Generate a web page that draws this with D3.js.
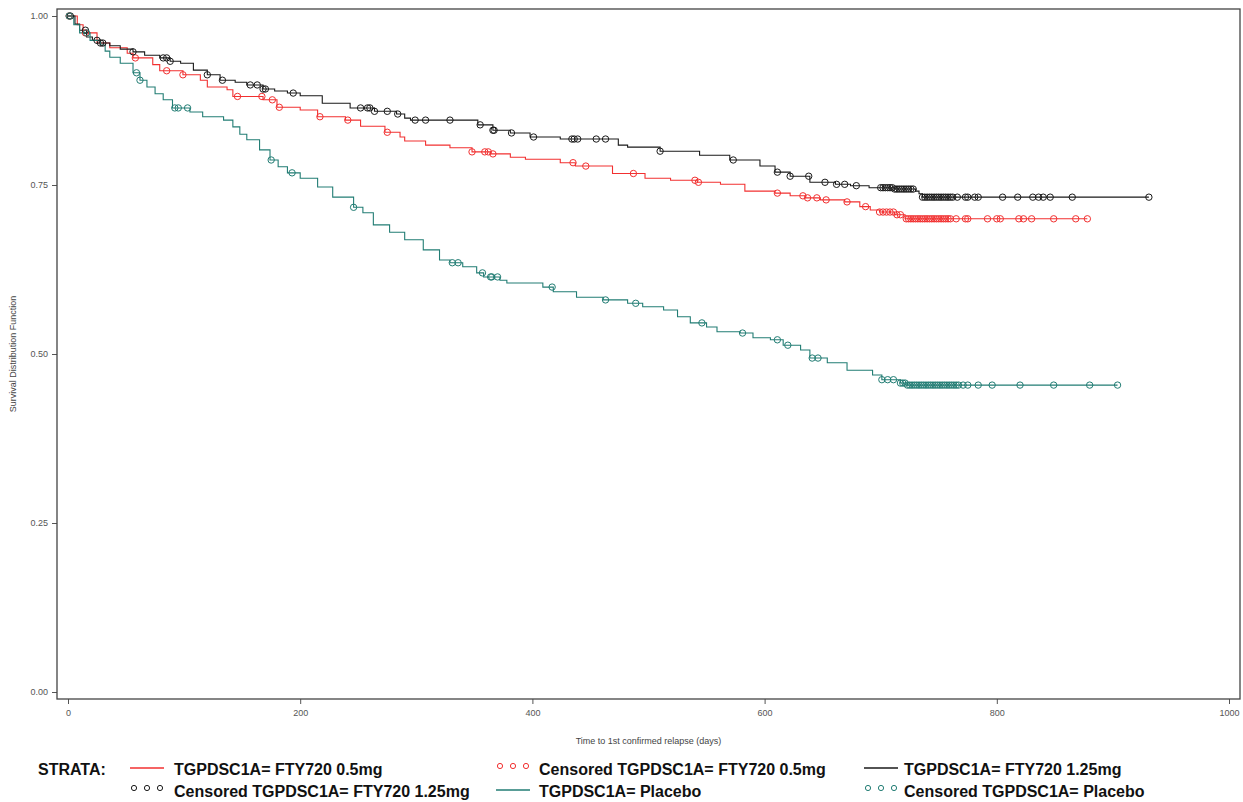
<!DOCTYPE html>
<html>
<head>
<meta charset="utf-8">
<script src="https://cdn.jsdelivr.net/npm/d3@7"></script>
<style>
  html, body { margin: 0; padding: 0; background: #fff; }
  svg { display: block; }
  .tick text { font-family: "Liberation Sans", Arial, sans-serif; font-size: 9px; fill: #555; }
  .tick line { stroke: #555; }
  .axis-title { font-family: "Liberation Sans", Arial, sans-serif; font-size: 9px; fill: #444; }
  .legend text { font-family: "Liberation Sans Narrow", "Arial Narrow", "Liberation Sans", sans-serif; font-size: 16px; font-weight: bold; fill: #111; }
</style>
</head>
<body>
<svg id="chart" width="1243" height="802"></svg>
<script>
// Kaplan-Meier estimates: time to 1st confirmed relapse (days)

// FTY720 0.5mg: event days and survival after each event, censoring days
const fty05Days = [8, 13, 25, 36, 51, 56, 73, 79, 99, 114, 120, 137, 142, 168, 180, 200, 215, 239, 252, 273, 286, 290, 308, 329, 348, 364, 381, 394, 424, 437, 469, 497, 519, 542, 562, 583, 609, 622, 635, 648, 669, 682, 691, 699, 712, 721];
const fty05Surv = [0.987, 0.975, 0.960, 0.953, 0.945, 0.938, 0.928, 0.919, 0.913, 0.905, 0.895, 0.891, 0.881, 0.876, 0.865, 0.861, 0.851, 0.846, 0.837, 0.828, 0.821, 0.815, 0.809, 0.805, 0.799, 0.796, 0.791, 0.788, 0.783, 0.778, 0.767, 0.760, 0.757, 0.754, 0.751, 0.741, 0.738, 0.734, 0.731, 0.728, 0.725, 0.718, 0.713, 0.710, 0.706, 0.700];
const fty05Censored = [1, 15, 58, 85, 99, 146, 167, 176, 182, 217, 241, 275, 348, 359, 362, 366, 435, 446, 487, 540, 543, 611, 633, 637, 645, 653, 671, 687, 699, 702, 705, 708, 711, 714, 717, 722, 724, 726, 728, 730, 732, 734, 736, 738, 740, 742, 744, 746, 748, 750, 752, 754, 756, 758, 760, 765, 773, 775, 792, 800, 803, 819, 823, 830, 849, 868, 878];

// FTY720 1.25mg
const fty125Days = [6, 10, 16, 21, 28, 36, 45, 56, 66, 79, 88, 97, 108, 120, 131, 144, 154, 168, 178, 189, 200, 219, 243, 264, 283, 290, 295, 353, 366, 381, 398, 424, 474, 482, 510, 544, 570, 596, 609, 622, 639, 661, 674, 690, 712, 730, 733, 736];
const fty125Surv = [0.988, 0.979, 0.969, 0.964, 0.960, 0.956, 0.951, 0.947, 0.942, 0.938, 0.933, 0.930, 0.920, 0.913, 0.905, 0.902, 0.898, 0.892, 0.889, 0.886, 0.882, 0.871, 0.864, 0.859, 0.855, 0.849, 0.846, 0.839, 0.831, 0.827, 0.821, 0.818, 0.809, 0.806, 0.800, 0.794, 0.787, 0.778, 0.769, 0.763, 0.754, 0.751, 0.749, 0.746, 0.744, 0.741, 0.737, 0.732];
const fty125Censored = [2, 15, 25, 28, 30, 56, 82, 85, 88, 120, 133, 157, 163, 168, 170, 194, 252, 258, 260, 264, 275, 284, 299, 308, 329, 355, 366, 367, 382, 401, 434, 436, 439, 455, 463, 510, 573, 611, 622, 638, 652, 662, 669, 679, 700, 702, 704, 706, 708, 710, 712, 714, 716, 718, 720, 722, 724, 726, 728, 736, 738, 740, 742, 744, 746, 748, 750, 752, 754, 756, 758, 760, 762, 766, 773, 775, 781, 784, 805, 818, 831, 836, 840, 846, 865, 931];

// Placebo
const placeboDays = [5, 10, 19, 28, 32, 36, 45, 56, 62, 68, 75, 82, 90, 105, 116, 134, 142, 148, 154, 165, 174, 181, 189, 200, 215, 228, 246, 254, 263, 277, 290, 306, 320, 329, 340, 352, 358, 372, 378, 409, 418, 438, 461, 482, 495, 513, 525, 536, 550, 559, 579, 590, 605, 616, 631, 639, 654, 671, 693, 701, 717, 723];
const placeboSurv = [0.987, 0.975, 0.964, 0.957, 0.948, 0.939, 0.930, 0.916, 0.905, 0.895, 0.885, 0.876, 0.864, 0.858, 0.851, 0.846, 0.836, 0.825, 0.817, 0.802, 0.787, 0.777, 0.768, 0.760, 0.747, 0.732, 0.717, 0.709, 0.691, 0.680, 0.669, 0.654, 0.639, 0.635, 0.629, 0.620, 0.614, 0.609, 0.605, 0.599, 0.592, 0.584, 0.580, 0.575, 0.570, 0.565, 0.555, 0.546, 0.540, 0.533, 0.531, 0.524, 0.521, 0.513, 0.506, 0.494, 0.487, 0.476, 0.469, 0.462, 0.457, 0.454];
const placeboCensored = [1, 16, 59, 62, 92, 95, 103, 175, 193, 246, 331, 336, 357, 364, 365, 370, 417, 463, 489, 546, 581, 611, 620, 641, 646, 701, 706, 711, 717, 719, 721, 723, 725, 727, 729, 731, 733, 735, 737, 739, 741, 743, 745, 747, 749, 751, 753, 755, 757, 759, 761, 763, 765, 767, 771, 775, 784, 796, 820, 849, 880, 904];

// Axis ticks and labels
const xTicks = [0, 200, 400, 600, 800, 1000];
const yTicks = [0, 0.25, 0.5, 0.75, 1];
const xTitle = "Time to 1st confirmed relapse (days)";
const yTitle = "Survival Distribution Function";
const legendTitle = "STRATA:";

const strata = [
  { key: "fty05",  label: "TGPDSC1A= FTY720 0.5mg",  days: fty05Days,  surv: fty05Surv,  censored: fty05Censored,  color: "#f23030" },
  { key: "fty125", label: "TGPDSC1A= FTY720 1.25mg", days: fty125Days, surv: fty125Surv, censored: fty125Censored, color: "#1a1a1a" },
  { key: "placebo",label: "TGPDSC1A= Placebo",       days: placeboDays,surv: placeboSurv,censored: placeboCensored,color: "#227d74" }
];

const svg = d3.select("#chart");
const frame = { left: 57, top: 9, right: 1240, bottom: 699 };
const x = d3.scaleLinear().domain([0, 1000]).range([68, 1229]);
const y = d3.scaleLinear().domain([0, 1]).range([692, 16]);

// Axes
const xAxis = svg.append("g")
  .attr("transform", `translate(0,${frame.bottom})`)
  .call(d3.axisBottom(x).tickValues(xTicks).tickFormat(d3.format("d")).tickSize(5).tickPadding(6));
xAxis.select(".domain").remove();

const yAxis = svg.append("g")
  .attr("transform", `translate(${frame.left},0)`)
  .call(d3.axisLeft(y).tickValues(yTicks).tickFormat(d3.format(".2f")).tickSize(5).tickPadding(4));
yAxis.select(".domain").remove();

svg.append("rect")
  .attr("x", frame.left).attr("y", frame.top)
  .attr("width", frame.right - frame.left).attr("height", frame.bottom - frame.top)
  .attr("fill", "none").attr("stroke", "#444").attr("stroke-width", 1.3);

svg.append("text").attr("class", "axis-title")
  .attr("x", (frame.left + frame.right) / 2).attr("y", 744)
  .attr("text-anchor", "middle").text(xTitle);

svg.append("text").attr("class", "axis-title")
  .attr("transform", `translate(16,${(frame.top + frame.bottom) / 2}) rotate(-90)`)
  .attr("text-anchor", "middle").text(yTitle);

// Step curves and censoring marks
const stepLine = d3.line().x(d => x(d[0])).y(d => y(d[1])).curve(d3.curveStepAfter);

function survivalAt(s, t) {
  const i = d3.bisectRight(s.days, t);
  return i === 0 ? 1 : s.surv[i - 1];
}

const plot = svg.append("g");
strata.forEach(s => {
  const end = d3.max(s.censored);
  const pts = [[0, 1]].concat(s.days.map((d, i) => [d, s.surv[i]]));
  pts.push([end, s.surv[s.surv.length - 1]]);
  plot.append("path")
    .attr("d", stepLine(pts))
    .attr("fill", "none")
    .attr("stroke", s.color)
    .attr("stroke-width", 1.1);
});
strata.forEach(s => {
  plot.append("g").selectAll("circle")
    .data(s.censored)
    .join("circle")
    .attr("cx", d => x(d))
    .attr("cy", d => y(survivalAt(s, d)))
    .attr("r", 3.2)
    .attr("fill", "none")
    .attr("stroke", s.color)
    .attr("stroke-width", 1);
});

// Legend: three columns, two rows
const legend = svg.append("g").attr("class", "legend");
legend.append("text").attr("x", 38).attr("y", 775).text(legendTitle);

const colSymbolX = [130, 496, 864];
const colTextX = [174, 539, 904];
const rowY = [769, 791];

const legendItems = [
  { kind: "line",   stratum: strata[0], text: strata[0].label,               col: 0, row: 0 },
  { kind: "circle", stratum: strata[0], text: "Censored " + strata[0].label, col: 1, row: 0 },
  { kind: "line",   stratum: strata[1], text: strata[1].label,               col: 2, row: 0 },
  { kind: "circle", stratum: strata[1], text: "Censored " + strata[1].label, col: 0, row: 1 },
  { kind: "line",   stratum: strata[2], text: strata[2].label,               col: 1, row: 1 },
  { kind: "circle", stratum: strata[2], text: "Censored " + strata[2].label, col: 2, row: 1 }
];

legendItems.forEach(it => {
  const cy = rowY[it.row];
  const sx = colSymbolX[it.col];
  if (it.kind === "line") {
    legend.append("line")
      .attr("x1", sx).attr("x2", sx + 34)
      .attr("y1", cy - 1).attr("y2", cy - 1)
      .attr("stroke", it.stratum.color).attr("stroke-width", 1.5);
  } else {
    [0, 1, 2].forEach(k => {
      legend.append("circle")
        .attr("cx", sx + 4 + k * 13).attr("cy", cy - 3)
        .attr("r", 2.6).attr("fill", "none")
        .attr("stroke", it.stratum.color).attr("stroke-width", 1);
    });
  }
  legend.append("text").attr("x", colTextX[it.col]).attr("y", cy + 6).text(it.text);
});
</script>
</body>
</html>
